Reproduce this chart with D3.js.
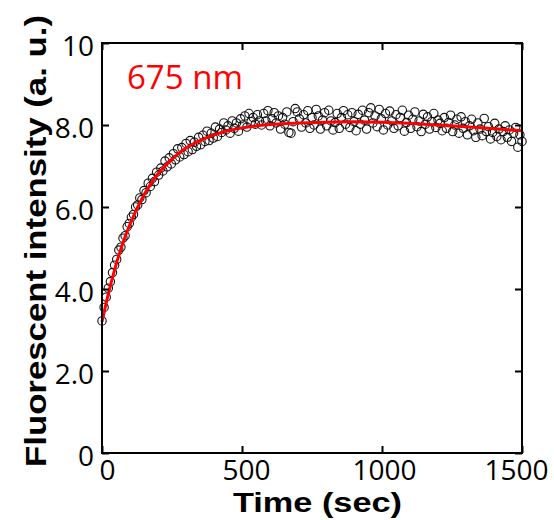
<!DOCTYPE html>
<html>
<head>
<meta charset="utf-8">
<script src="https://cdn.jsdelivr.net/npm/d3@7"></script>
<style>
body { margin: 0; background: #fff; }
</style>
</head>
<body>
<div class="content"></div>
<script>
// measured intensity, one reading every 7.5 s from 0 to 1500 s
var timeStep = 7.5;
var intensity = [
 3.22, 3.55, 3.80, 4.02, 4.18, 4.40, 4.58, 4.72, 4.95, 5.02,
 5.24, 5.30, 5.52, 5.60, 5.75, 5.82, 6.00, 6.05, 6.22, 6.18,
 6.40, 6.35, 6.58, 6.50, 6.70, 6.62, 6.85, 6.78, 6.95, 6.88,
 7.12, 6.98, 7.20, 7.05, 7.30, 7.15, 7.42, 7.22, 7.45, 7.28,
 7.55, 7.35, 7.62, 7.40, 7.58, 7.48, 7.70, 7.52, 7.75, 7.60,
 7.85, 7.62, 7.80, 7.68, 7.95, 7.72, 7.90, 7.82, 8.05, 7.88,
 7.98, 7.80, 8.10, 7.92, 8.05, 7.85, 8.15, 8.00, 8.22, 7.95,
 8.28, 8.08, 8.18, 8.02, 8.25, 8.10,
 8.00, 8.28, 8.10, 8.35, 7.98, 8.15, 8.30, 8.05, 8.22, 7.90,
 8.18, 8.02, 8.32, 7.82, 7.80, 8.08, 8.40, 8.32, 8.15, 7.95,
 8.25, 8.05, 8.35, 7.92, 8.18, 8.00, 8.38, 8.22, 7.90, 8.12,
 8.30, 7.98, 8.36, 8.10, 7.88, 8.06, 8.28, 7.92, 8.18, 8.35,
 8.02, 8.25, 7.94, 8.30, 8.08,
 7.86, 8.26, 8.02, 8.36, 8.12, 7.90, 8.30, 8.42, 8.05, 8.22,
 7.96, 8.38, 8.15, 7.88, 8.28, 8.00, 8.34, 8.10, 7.92, 8.25,
 7.98, 8.18, 8.36, 7.85, 8.06, 8.24, 7.92, 8.14, 8.32, 7.96,
 8.10, 7.84, 8.26, 8.02, 8.20, 7.90, 8.08, 8.28, 7.94, 8.12,
 8.04, 7.86, 8.18, 7.92, 8.06, 8.24, 7.84, 8.00, 8.14, 7.80,
 8.20, 7.92, 8.08, 7.76, 7.98, 8.14, 7.86, 7.70, 8.05, 7.90,
 7.74, 8.16, 7.84, 7.96, 7.66, 7.82, 8.04, 7.72, 7.90, 7.64,
 7.84, 7.98, 7.70, 7.88, 7.60, 7.80, 7.94, 7.46, 7.76, 7.60
];
// fitted curve (red)
var fitTimes = [0, 25, 50, 75, 100, 150, 200, 250, 300, 350, 400, 450, 500, 600, 700, 800, 900, 1000, 1100, 1200, 1300, 1400, 1500];
var fitValues = [3.20, 3.95, 4.59, 5.13, 5.58, 6.30, 6.81, 7.17, 7.44, 7.62, 7.76, 7.86, 7.93, 8.01, 8.05, 8.07, 8.08, 8.07, 8.04, 8.00, 7.96, 7.91, 7.86];
var xTicks = [0, 500, 1000, 1500];
var yTicks = [0, 2, 4, 6, 8, 10];
var yTickLabels = ["0", "2.0", "4.0", "6.0", "8.0", "10"];
var label = "675 nm";

var width = 554, height = 520;
var margin = {top: 43, right: 32, bottom: 67, left: 102};
var w = width - margin.left - margin.right;
var h = height - margin.top - margin.bottom;

var svg = d3.select(".content").append("svg").attr("width", width).attr("height", height);
var g = svg.append("g").attr("transform", "translate(" + margin.left + "," + margin.top + ")");

var x = d3.scaleLinear().domain([0, 1500]).range([0, w]);
var y = d3.scaleLinear().domain([0, 10]).range([h, 0]);

var points = intensity.map(function(v, i){ return {t: i * timeStep, v: v}; });
var fit = fitTimes.map(function(t, i){ return {t: t, v: fitValues[i]}; });

g.append("g").selectAll("circle").data(points).enter().append("circle")
	.attr("cx", function(d){ return x(d.t); })
	.attr("cy", function(d){ return y(d.v); })
	.attr("r", 4.2)
	.attr("fill", "none")
	.attr("stroke", "#111")
	.attr("stroke-width", 1.1);

var line = d3.line().x(function(d){ return x(d.t); }).y(function(d){ return y(d.v); }).curve(d3.curveMonotoneX);
g.append("path").datum(fit).attr("d", line)
	.attr("fill", "none").attr("stroke", "#ff0000").attr("stroke-width", 3);

// axes with inward ticks
var xAxis = g.append("g").attr("transform", "translate(0," + h + ")")
	.call(d3.axisBottom(x).tickValues(xTicks).tickSizeInner(-7).tickSizeOuter(0).tickFormat(d3.format("d")));
var yAxis = g.append("g")
	.call(d3.axisLeft(y).tickValues(yTicks).tickSizeInner(-7).tickSizeOuter(0).tickFormat(function(d, i){ return yTickLabels[i]; }));
g.append("g").call(d3.axisTop(x).tickValues(xTicks).tickSizeInner(-7).tickSizeOuter(0).tickFormat(""));
g.append("g").attr("transform", "translate(" + w + ",0)")
	.call(d3.axisRight(y).tickValues(yTicks).tickSizeInner(-7).tickSizeOuter(0).tickFormat(""));

svg.selectAll(".domain").remove();
svg.selectAll(".tick line").attr("stroke", "#000").attr("stroke-width", 2);

var xShift = [5, 4, 2, -6];
xAxis.selectAll("text")
	.attr("y", 27).attr("dy", 0)
	.attr("dx", function(d, i){ return xShift[i]; })
	.style("font-family", "'Open Sans', sans-serif").style("font-size", "28px").attr("fill", "#000");
yAxis.selectAll("text")
	.attr("x", -8).attr("dy", 12).attr("dx", 0)
	.style("font-family", "'Open Sans', sans-serif").style("font-size", "28px").attr("fill", "#000");

g.append("rect").attr("width", w).attr("height", h)
	.attr("fill", "none").attr("stroke", "#000").attr("stroke-width", 2);

g.append("text").attr("x", 25).attr("y", 46)
	.style("font-family", "'Open Sans', sans-serif").style("font-size", "33px")
	.attr("fill", "#ff0000").text(label);

svg.append("text").attr("x", 233).attr("y", 512)
	.attr("textLength", 169).attr("lengthAdjust", "spacingAndGlyphs")
	.style("font-family", "'Liberation Sans', Arial, sans-serif").style("font-size", "28px").style("font-weight", "bold")
	.text("Time (sec)");

svg.append("text").attr("transform", "translate(46,467) rotate(-90)")
	.attr("textLength", 452).attr("lengthAdjust", "spacingAndGlyphs")
	.style("font-family", "'Liberation Sans', Arial, sans-serif").style("font-size", "30px").style("font-weight", "bold")
	.text("Fluorescent intensity (a. u.)");
</script>
</body>
</html>
